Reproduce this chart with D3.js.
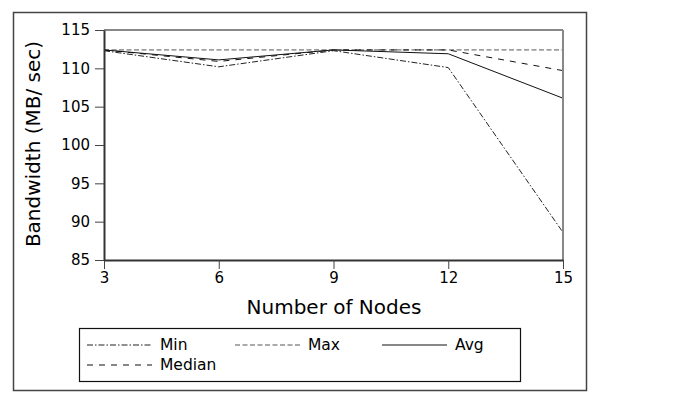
<!DOCTYPE html>
<html><head><meta charset="utf-8">
<script src="https://cdn.jsdelivr.net/npm/d3@7"></script>
<style>body{margin:0;background:#fff;} text{font-family:"DejaVu Sans",sans-serif;fill:#000;}</style>
</head><body><svg id="c" width="698" height="412"></svg>
<script>
const nodes = [3, 6, 9, 12, 15];
const minVals = [112.3, 110.2, 112.3, 110.1, 88.6];
const maxVals = [112.4, 112.4, 112.4, 112.4, 112.4];
const avgVals = [112.4, 111.1, 112.4, 111.9, 106.1];
const medianVals = [112.4, 110.9, 112.4, 112.4, 109.7];
const yTicks = [85, 90, 95, 100, 105, 110, 115];
const xTicks = [3, 6, 9, 12, 15];

const series = [
  {name: "Min", values: minVals, color: "#222", dash: "6,2,1.5,2"},
  {name: "Max", values: maxVals, color: "#555", dash: "5,2.5"},
  {name: "Avg", values: avgVals, color: "#111", dash: null},
  {name: "Median", values: medianVals, color: "#111", dash: "6,6"}
];

const svg = d3.select("#c");
const L = 104, R = 563, T = 30, B = 260;
const x = d3.scaleLinear().domain([3, 15]).range([L, R]);
const y = d3.scaleLinear().domain([85, 115]).range([B, T]);

svg.append("rect").attr("x", 13.5).attr("y", 12.5).attr("width", 573).attr("height", 378)
  .attr("fill", "#fff").attr("stroke", "#444").attr("stroke-width", 1.5);

const line = d3.line().x((d, i) => x(nodes[i])).y(d => y(d));
const g = svg.append("g");
series.forEach(s => {
  g.append("path").datum(s.values).attr("d", line).attr("fill", "none")
    .attr("stroke", s.color).attr("stroke-width", 1)
    .attr("stroke-dasharray", s.dash);
});

svg.append("line").attr("x1", L).attr("x2", R).attr("y1", T).attr("y2", T).attr("stroke", "#888").attr("stroke-width", 2);
svg.append("line").attr("x1", R).attr("x2", R).attr("y1", T).attr("y2", B).attr("stroke", "#888").attr("stroke-width", 2);

const xAxis = svg.append("g").attr("transform", `translate(0,${B})`)
  .call(d3.axisBottom(x).tickValues(xTicks).tickSize(9).tickSizeOuter(0).tickFormat(d3.format("d")));
const yAxis = svg.append("g").attr("transform", `translate(${L},0)`)
  .call(d3.axisLeft(y).tickValues(yTicks).tickSize(9).tickSizeOuter(0).tickFormat(d3.format("d")));
[xAxis, yAxis].forEach(a => {
  a.select(".domain").attr("stroke", "#333").attr("stroke-width", 2);
  a.selectAll(".tick line").attr("stroke", "#444").attr("stroke-width", 1);
  a.selectAll(".tick text").style("font-family", "DejaVu Sans").style("font-size", "15px").attr("fill", "#000");
});
xAxis.selectAll(".tick text").attr("dy", "0.71em").attr("y", 12);
yAxis.selectAll(".tick text").attr("x", -14);

svg.append("text").attr("x", (L + R) / 2 + 0.5).attr("y", 314).attr("text-anchor", "middle")
  .style("font-size", "20px").text("Number of Nodes");
svg.append("text").attr("transform", `translate(40,${(T + B) / 2 - 1}) rotate(-90)`).attr("text-anchor", "middle")
  .style("font-size", "20px").text("Bandwidth (MB/ sec)");

svg.append("rect").attr("x", 79.5).attr("y", 328.5).attr("width", 441).attr("height", 53)
  .attr("fill", "#fff").attr("stroke", "#111").attr("stroke-width", 1.2);
const legPos = [[87, 345], [235, 345], [382, 345], [87, 365]];
series.forEach((s, i) => {
  const [lx, ly] = legPos[i];
  svg.append("line").attr("x1", lx).attr("x2", lx + 65).attr("y1", ly).attr("y2", ly)
    .attr("stroke", s.color).attr("stroke-width", 1).attr("stroke-dasharray", s.dash);
  svg.append("text").attr("x", lx + 73).attr("y", ly).attr("dy", "0.35em")
    .style("font-size", "15.5px").text(s.name);
});
</script></body></html>
